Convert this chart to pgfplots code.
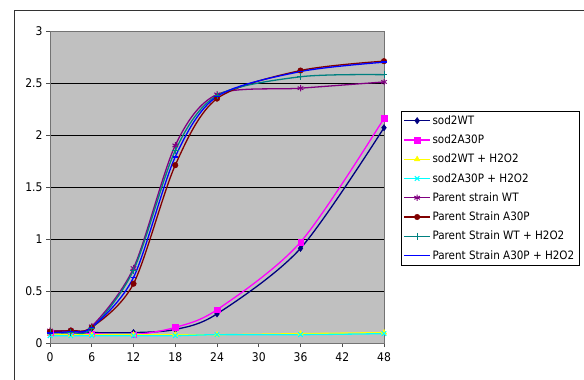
\documentclass[border=0pt]{standalone}
\usepackage{fontspec}
\usepackage{pgfplots}
\pgfplotsset{compat=1.18}
\newfontfamily\tah{DejaVu Sans Condensed}
\definecolor{bggray}{HTML}{C0C0C0}
\definecolor{cNavy}{HTML}{000080}
\definecolor{cMag}{HTML}{FF00FF}
\definecolor{cYel}{HTML}{FFFF00}
\definecolor{cCyan}{HTML}{00FFFF}
\definecolor{cPurp}{HTML}{800080}
\definecolor{cMaroon}{HTML}{800000}
\definecolor{cTeal}{HTML}{008080}
\definecolor{cBlue}{HTML}{0000FF}
\begin{document}
\begin{tikzpicture}[x=1bp,y=1bp]
\begin{axis}[
  at={(50bp,36bp)}, anchor=south west,
  scale only axis, width=334bp, height=312bp,
  xmin=0, xmax=48, ymin=0, ymax=3,
  xtick={0,6,...,48}, ytick={0,0.5,...,3},
  xticklabel={\tah\fontsize{12}{14}\selectfont\pgfmathprintnumber{\tick}},
  yticklabel={\tah\fontsize{12}{14}\selectfont\pgfmathprintnumber{\tick}},
  axis background/.style={fill=bggray},
  ymajorgrids, grid style={black, line width=0.9pt},
  axis line style={draw=black!55, line width=0.8pt},
  tick pos=left, tick align=outside, major tick length=4bp,
  tick style={black!70, line width=0.7pt},
  xticklabel style={yshift=-2bp},
  /pgf/number format/assume math mode=true,
  legend style={at={(1.051,0.744)}, anchor=north west, draw=black, fill=white,
    font=\tah\fontsize{11.6}{13}\selectfont, row sep=5bp, inner sep=2.5bp,
    cells={anchor=west}},
  legend image code/.code={\draw[mark repeat=2,mark phase=2] plot coordinates {(0cm,0cm) (0.45cm,0cm) (0.9cm,0cm)};},
  every axis plot/.append style={line width=1.3pt, smooth, tension=0.5},
  clip=false,
]
\addplot[cNavy, mark=diamond*, mark size=3.2bp, mark options={fill=cNavy, line width=0.4pt}] coordinates {
 (0,0.10) (3,0.10) (6,0.10) (12,0.10) (18,0.13) (24,0.28) (36,0.91) (48,2.07)};
\addlegendentry{sod2WT}
\addplot[cMag, mark=square*, mark size=2.8bp, mark options={fill=cMag, line width=0.4pt}] coordinates {
 (0,0.10) (3,0.10) (6,0.09) (12,0.08) (18,0.15) (24,0.32) (36,0.97) (48,2.16)};
\addlegendentry{sod2A30P}
\addplot[cYel, mark=triangle*, mark size=3.2bp, mark options={fill=cYel, line width=0.4pt}] coordinates {
 (0,0.09) (3,0.08) (6,0.08) (12,0.08) (18,0.08) (24,0.08) (36,0.09) (48,0.10)};
\addlegendentry{sod2WT + H2O2}
\addplot[cCyan, mark=x, mark size=3.2bp, mark options={line width=1.1pt}] coordinates {
 (0,0.07) (3,0.07) (6,0.07) (12,0.07) (18,0.07) (24,0.08) (36,0.08) (48,0.09)};
\addlegendentry{sod2A30P + H2O2}
\addplot[cPurp, mark=asterisk, mark size=3.2bp, mark options={line width=1pt}] coordinates {
 (0,0.12) (3,0.12) (6,0.16) (12,0.72) (18,1.90) (24,2.39) (36,2.45) (48,2.51)};
\addlegendentry{Parent strain WT}
\addplot[cMaroon, mark=*, mark size=2.8bp, mark options={fill=cMaroon, line width=0.4pt}] coordinates {
 (0,0.11) (3,0.12) (6,0.15) (12,0.57) (18,1.71) (24,2.35) (36,2.62) (48,2.71)};
\addlegendentry{Parent Strain A30P}
\addplot[cTeal, mark=+, mark size=3.4bp, mark options={line width=0.8pt}] coordinates {
 (0,0.10) (3,0.10) (6,0.14) (12,0.70) (18,1.85) (24,2.38) (36,2.56) (48,2.58)};
\addlegendentry{Parent Strain WT + H2O2}
\addplot[cBlue, mark=-, mark size=2.6bp, mark options={line width=1.8pt}] coordinates {
 (0,0.10) (3,0.11) (6,0.15) (12,0.63) (18,1.79) (24,2.37) (36,2.61) (48,2.70)};
\addlegendentry{Parent Strain A30P + H2O2}
\end{axis}
\draw[black!80, line width=0.8pt] (14,-10) -- (14,369) -- (600,369);
\pgfresetboundingbox
\path[use as bounding box] (0,0) rectangle (584,379);
\end{tikzpicture}
\end{document}
